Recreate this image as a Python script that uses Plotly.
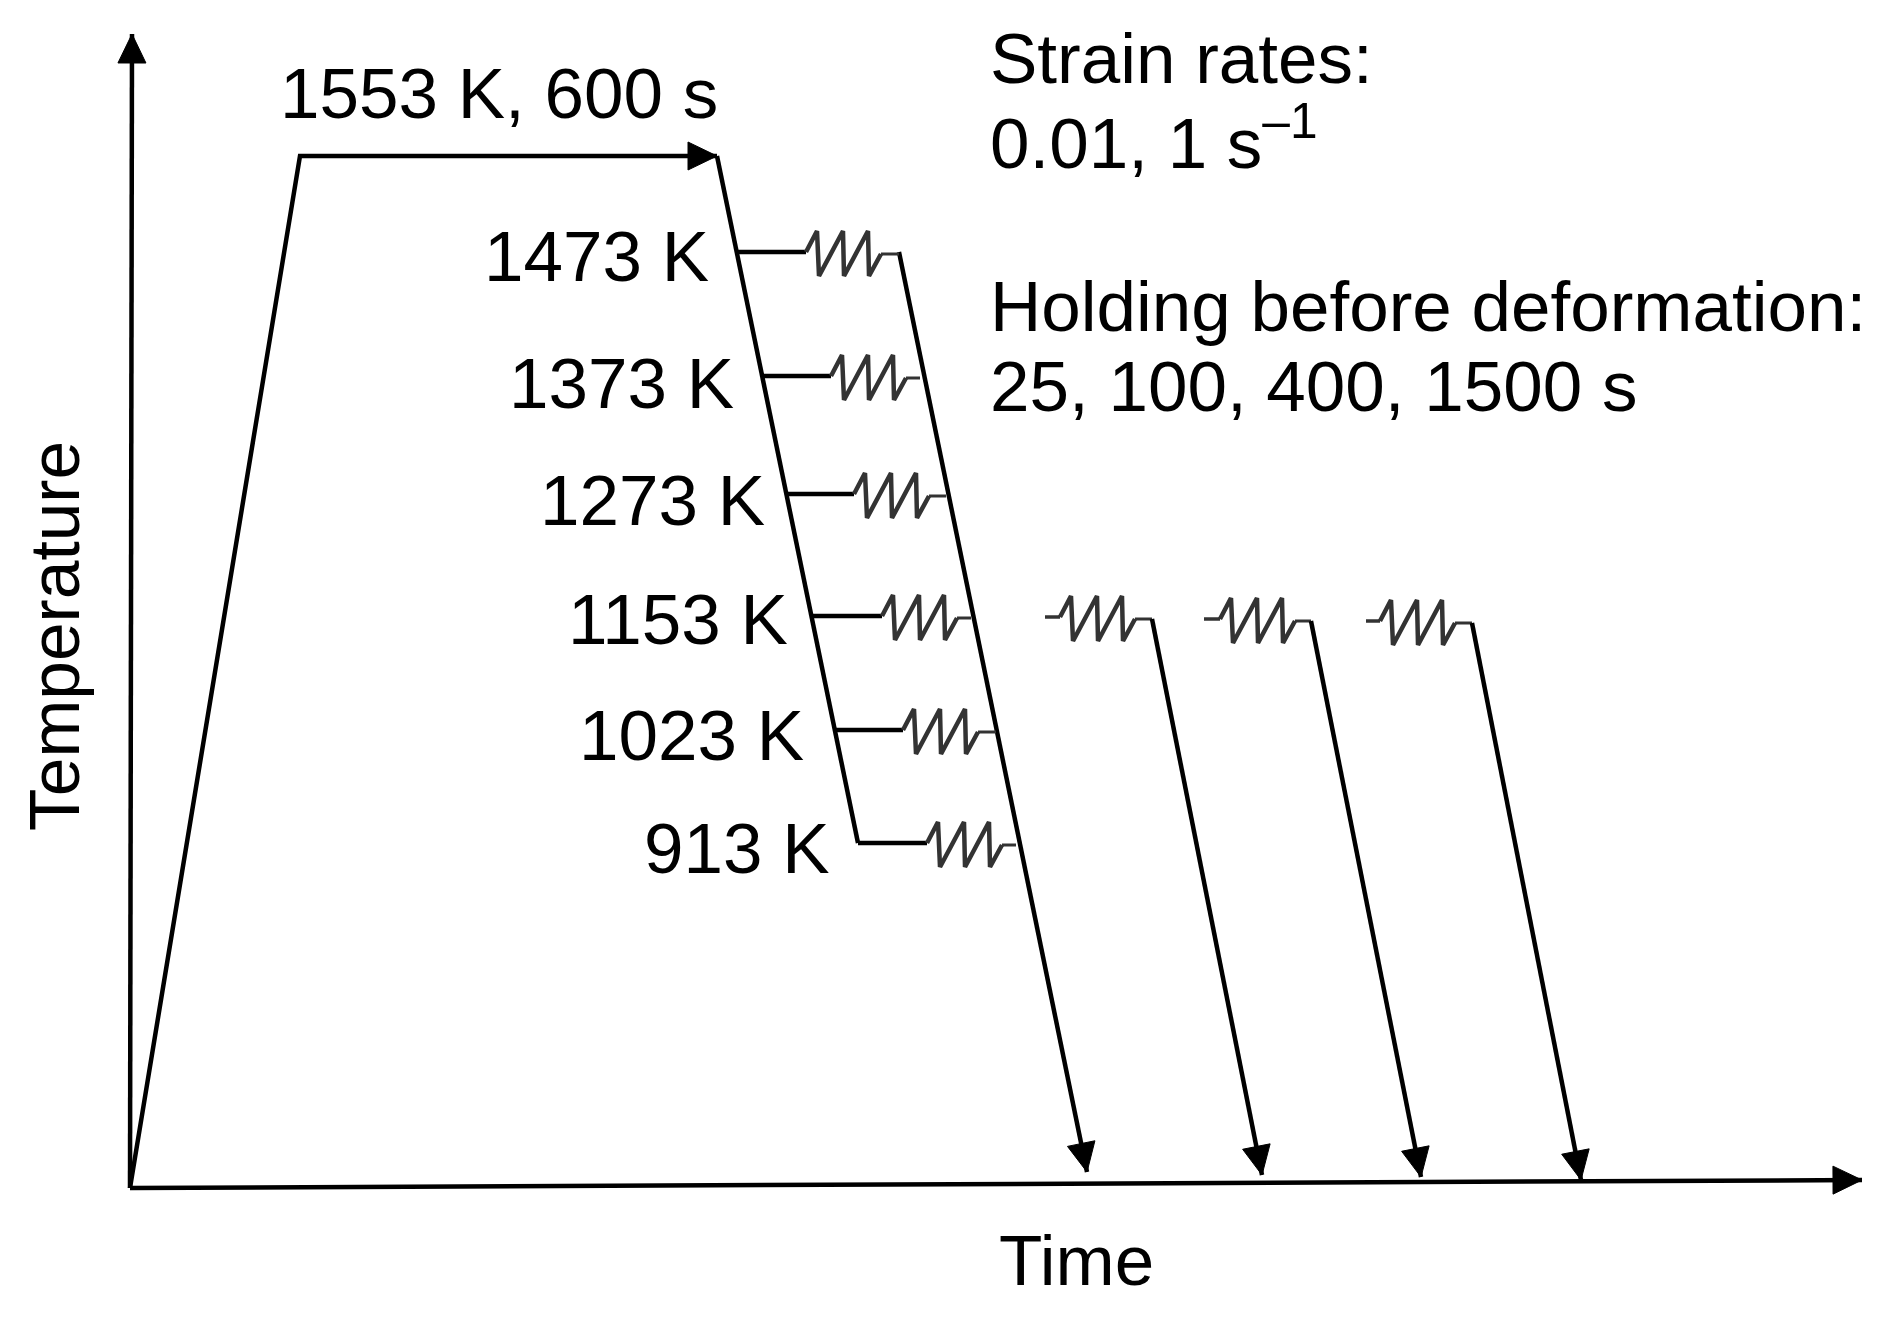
import math
import plotly.graph_objects as go

axis_x = [130, 1862]
axis_x_y = [1188, 1180]
axis_y_x = [130, 132]
axis_y = [1188, 34]
heat_x = [130, 300, 717]
heat_y = [1188, 156, 156]
cool_x = [717, 858]
cool_y = [156, 843]
final_x = [899, 1087]
final_y = [252, 1172]

row_y = [252, 376, 494, 616, 730, 843]
row_left = [735, 762, 787, 811, 835, 858]
row_zig = [806, 831, 854, 882, 903, 927]
row_end = [899, 920, 946, 971, 996, 1016]

extra_left = [1045, 1204, 1366]
extra_zig = [1060, 1220, 1380]
extra_y = [617, 619, 621]
extra_end = [1152, 1311, 1472]
extra_tip_x = [1262, 1421, 1581]
extra_tip_y = [1175, 1177, 1180]

zig_dx = [0, 11, 13, 37, 38, 62, 63, 75]
zig_dy = [0, -21, 24, -21, 24, -21, 24, 2]

labels = ["1553 K, 600 s", "1473 K", "1373 K", "1273 K", "1153 K", "1023 K", "913 K",
          "Strain rates:", "0.01, 1 s<sup>–1</sup>", "Holding before deformation:",
          "25, 100, 400, 1500 s"]
label_right = [720, 711, 736, 767, 790, 806, 832, 988, 988, 988, 988]
label_y = [93, 256, 383, 500, 619, 735, 848, 58, 138, 306, 386]

BLACK = "#000000"
GREY = "#333333"
fig = go.Figure()


def line(xs, ys, color=BLACK, width=4.5):
    fig.add_trace(go.Scatter(x=xs, y=ys, mode="lines", hoverinfo="skip", showlegend=False,
                             line=dict(color=color, width=width)))


def head(xs, ys, length=29, half=14):
    tx, ty = xs[-1], ys[-1]
    dx, dy = tx - xs[-2], ty - ys[-2]
    n = math.hypot(dx, dy)
    ux, uy = dx / n, dy / n
    bx, by = tx - ux * length, ty - uy * length
    fig.add_trace(go.Scatter(x=[tx, bx - uy * half, bx + uy * half, tx],
                             y=[ty, by + ux * half, by - ux * half, ty],
                             mode="lines", fill="toself", fillcolor=BLACK, hoverinfo="skip",
                             showlegend=False, line=dict(color=BLACK, width=1)))


def zigzag(x0, y0, xe):
    xs = [x0 + d for d in zig_dx]
    ys = [y0 + d for d in zig_dy]
    line(xs, ys, GREY, 4.5)
    line([xs[-1], xe], [ys[-1], ys[-1]], GREY, 3)


line(axis_x, axis_x_y)
head(axis_x, axis_x_y)
line(axis_y_x, axis_y)
head(axis_y_x, axis_y)
line(heat_x, heat_y)
head(heat_x, heat_y)
line(cool_x, cool_y)
line(final_x, final_y)
head(final_x, final_y)

for y, l, z, e in zip(row_y, row_left, row_zig, row_end):
    line([l, z], [y, y])
    zigzag(z, y, e)

for l, z, y, e, tx, ty in zip(extra_left, extra_zig, extra_y, extra_end, extra_tip_x, extra_tip_y):
    line([l, z], [y, y], GREY, 3.5)
    zigzag(z, y, e)
    line([e, tx], [y + 2, ty])
    head([e, tx], [y + 2, ty])

for i, (t, x, y) in enumerate(zip(labels, label_right, label_y)):
    left = i >= 7
    fig.add_annotation(x=x, y=y, text=t, showarrow=False, xanchor="left" if left else "right",
                       yanchor="middle", font=dict(size=71, color=BLACK))

fig.add_annotation(x=1076, y=1260, text="Time", showarrow=False, yanchor="middle",
                   font=dict(size=71, color=BLACK))
fig.add_annotation(x=55, y=636, text="Temperature", showarrow=False, textangle=-90,
                   xanchor="center", yanchor="middle", font=dict(size=69.5, color=BLACK))

fig.update_layout(width=1884, height=1317, margin=dict(l=0, r=0, t=0, b=0),
                  paper_bgcolor="white", plot_bgcolor="white",
                  font=dict(family="Liberation Sans, Arial, sans-serif"),
                  xaxis=dict(range=[0, 1884], visible=False, fixedrange=True),
                  yaxis=dict(range=[1317, 0], visible=False, fixedrange=True))
fig.write_html("out.html", config={"displayModeBar": False},
               post_script="document.body.style.margin='0';")
